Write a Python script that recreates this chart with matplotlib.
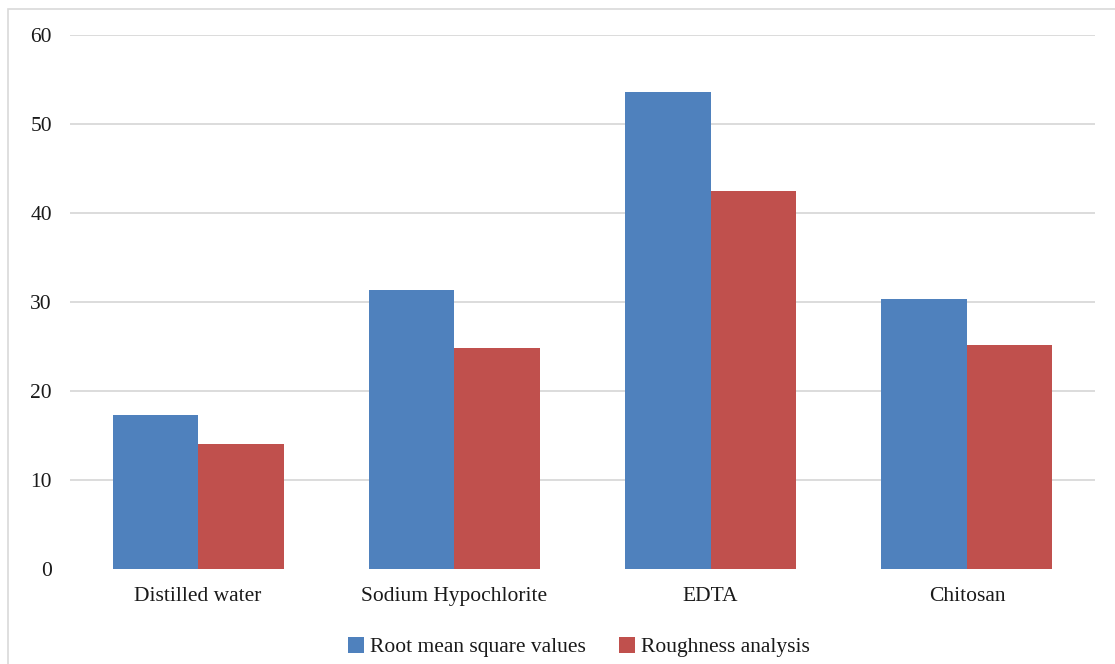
import matplotlib
matplotlib.use("Agg")
import matplotlib.pyplot as plt
from matplotlib.patches import Rectangle, Patch
import numpy as np

categories = ["Distilled water", "Sodium Hypochlorite", "EDTA", "Chitosan"]
rms_values = [17.3, 31.4, 53.6, 30.3]
roughness_values = [14.0, 24.8, 42.5, 25.2]
series_names = ["Root mean square values", "Roughness analysis"]
y_ticks = [0, 10, 20, 30, 40, 50, 60]

blue = "#4F81BD"
red = "#C0504D"

plt.rcParams["font.family"] = ["Liberation Serif", "DejaVu Serif"]

fig = plt.figure(figsize=(11.15, 6.64), dpi=100)
fig.patch.set_facecolor("white")

# light frame around the chart area (right and bottom edges fall outside)
fig.patches.append(Rectangle((8 / 1115, -0.05), 1.2, 1 - 9 / 664 + 0.05,
                             transform=fig.transFigure, fill=False,
                             edgecolor="#d9d9d9", linewidth=1.2))

ax = fig.add_axes([70 / 1115, 1 - 569 / 664, 1025 / 1115, 534 / 664])
x = np.arange(len(categories))
w = 1 / 3
ax.bar(x - w / 2, rms_values, width=w, color=blue, label=series_names[0], zorder=3)
ax.bar(x + w / 2, roughness_values, width=w, color=red, label=series_names[1], zorder=3)

ax.set_xlim(-0.5, len(categories) - 0.5)
ax.set_ylim(0, 60)
ax.set_yticks(y_ticks)
ax.set_xticks(x)
ax.set_xticklabels(categories)
# horizontal gridlines, except at zero
for yv in y_ticks[1:]:
    ax.axhline(yv, color="#d9d9d9", linewidth=1.3, zorder=0)
for s in ax.spines.values():
    s.set_visible(False)
ax.tick_params(axis="both", length=0, labelsize=15.5, colors="#1a1a1a")
ax.tick_params(axis="y", pad=13)
ax.tick_params(axis="x", pad=13)

handles = [Patch(facecolor=blue), Patch(facecolor=red)]
fig.legend(handles, series_names, loc="center", bbox_to_anchor=(579 / 1115, 1 - 647 / 664),
           ncol=2, frameon=False, fontsize=15.5, handlelength=0.75, handleheight=0.75,
           handletextpad=0.3, columnspacing=1.5, labelcolor="#1a1a1a")

fig.savefig("out.png", dpi=100, facecolor="white")
